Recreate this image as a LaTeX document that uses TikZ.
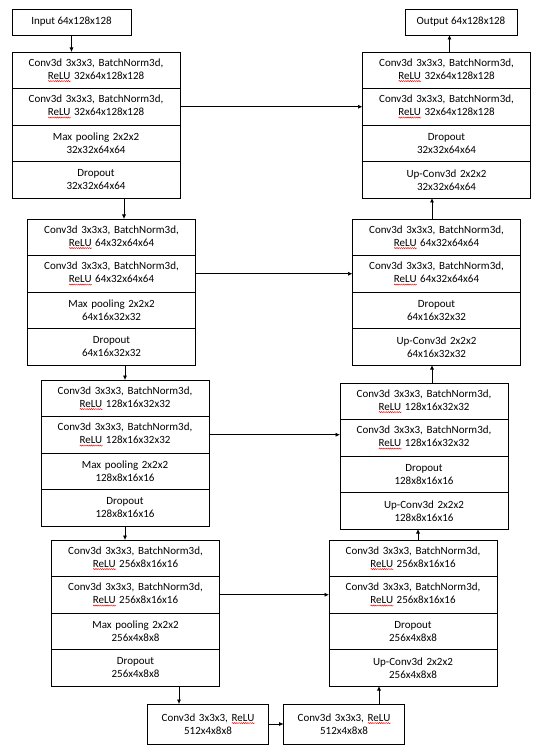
\documentclass[tikz,border=0pt]{standalone}
\usepackage{fontspec}
\setmainfont{Carlito}
\usetikzlibrary{positioning, arrows.meta, decorations.pathmorphing}

\newsavebox\relubox
\newcommand{\reluword}{\leavevmode\sbox\relubox{ReLU}\rlap{\tikz[baseline=0pt]\draw[red, line width=0.45pt, decorate, decoration={snake, amplitude=0.55pt, segment length=2.2pt}] (0pt,-1.8pt) -- (\wd\relubox,-1.8pt);}\usebox\relubox}
\newcommand{\convtxt}[1]{Conv3d 3x3x3, BatchNorm3d,\\ \reluword{} #1}

\begin{document}
\begin{tikzpicture}[x=1pt, y=-1pt,
	layer/.style={draw, line width=0.7pt, outer sep=0pt, inner sep=2pt, text width=160pt, align=center, minimum width=168pt, minimum height=36.5pt, font=\fontsize{11}{13}\selectfont},
	io/.style={draw, line width=0.7pt, outer sep=0pt, minimum height=26pt, font=\fontsize{11}{13}\selectfont},
	btm/.style={draw, line width=0.7pt, outer sep=0pt, text width=114pt, align=center, minimum width=120pt, minimum height=40pt, font=\fontsize{11}{13}\selectfont},
	arr/.style={-{Latex[length=4.5pt,width=4pt]}, line width=0.7pt}]
	\useasboundingbox (0,0) rectangle (537,751);

	\node[io, minimum width=119pt] (in) at (71.5,22) {Input 64x128x128};
	\node[io, minimum width=112pt] (out) at (461,22) {Output 64x128x128};

	\node[layer] (L1-1) at (96,70.25) {\convtxt{32x64x128x128}};
	\node[layer, below=0pt of L1-1] (L1-2) {\convtxt{32x64x128x128}};
	\node[layer, below=0pt of L1-2] (L1-3) {Max pooling 2x2x2\\ 32x32x64x64};
	\node[layer, below=0pt of L1-3] (L1-4) {Dropout\\ 32x32x64x64};

	\node[layer] (L2-1) at (111.5,237.25) {\convtxt{64x32x64x64}};
	\node[layer, below=0pt of L2-1] (L2-2) {\convtxt{64x32x64x64}};
	\node[layer, below=0pt of L2-2] (L2-3) {Max pooling 2x2x2\\ 64x16x32x32};
	\node[layer, below=0pt of L2-3] (L2-4) {Dropout\\ 64x16x32x32};

	\node[layer] (L3-1) at (125,398.25) {\convtxt{128x16x32x32}};
	\node[layer, below=0pt of L3-1] (L3-2) {\convtxt{128x16x32x32}};
	\node[layer, below=0pt of L3-2] (L3-3) {Max pooling 2x2x2\\ 128x8x16x16};
	\node[layer, below=0pt of L3-3] (L3-4) {Dropout\\ 128x8x16x16};

	\node[layer] (L4-1) at (135.5,558.25) {\convtxt{256x8x16x16}};
	\node[layer, below=0pt of L4-1] (L4-2) {\convtxt{256x8x16x16}};
	\node[layer, below=0pt of L4-2] (L4-3) {Max pooling 2x2x2\\ 256x4x8x8};
	\node[layer, below=0pt of L4-3] (L4-4) {Dropout\\ 256x4x8x8};

	\node[layer] (R1-1) at (446.5,70.25) {\convtxt{32x64x128x128}};
	\node[layer, below=0pt of R1-1] (R1-2) {\convtxt{32x64x128x128}};
	\node[layer, below=0pt of R1-2] (R1-3) {Dropout\\ 32x32x64x64};
	\node[layer, below=0pt of R1-3] (R1-4) {Up-Conv3d 2x2x2\\ 32x32x64x64};

	\node[layer] (R2-1) at (436.5,237.25) {\convtxt{64x32x64x64}};
	\node[layer, below=0pt of R2-1] (R2-2) {\convtxt{64x32x64x64}};
	\node[layer, below=0pt of R2-2] (R2-3) {Dropout\\ 64x16x32x32};
	\node[layer, below=0pt of R2-3] (R2-4) {Up-Conv3d 2x2x2\\ 64x16x32x32};

	\node[layer] (R3-1) at (424,401.25) {\convtxt{128x16x32x32}};
	\node[layer, below=0pt of R3-1] (R3-2) {\convtxt{128x16x32x32}};
	\node[layer, below=0pt of R3-2] (R3-3) {Dropout\\ 128x8x16x16};
	\node[layer, below=0pt of R3-3] (R3-4) {Up-Conv3d 2x2x2\\ 128x8x16x16};

	\node[layer] (R4-1) at (413,558.25) {\convtxt{256x8x16x16}};
	\node[layer, below=0pt of R4-1] (R4-2) {\convtxt{256x8x16x16}};
	\node[layer, below=0pt of R4-2] (R4-3) {Dropout\\ 256x4x8x8};
	\node[layer, below=0pt of R4-3] (R4-4) {Up-Conv3d 2x2x2\\ 256x4x8x8};

	\node[btm] (B1) at (208,724) {Conv3d 3x3x3, \reluword\\ 512x4x8x8};
	\node[btm] (B2) at (344,724) {Conv3d 3x3x3, \reluword\\ 512x4x8x8};

	\draw[arr] (in.south) -- (in.south |- L1-1.north);
	\draw[arr] ([xshift=28pt]L1-4.south) -- ([xshift=28pt]L1-4.south |- L2-1.north);
	\draw[arr] (L2-4.south -| L3-1.north) -- (L3-1.north);
	\draw[arr] (L3-4.south) -- (L3-4.south |- L4-1.north);
	\draw[arr] ([xshift=43.5pt]L4-4.south) -- ([xshift=43.5pt]L4-4.south |- B1.north);
	\draw[arr] (B1.east) -- (B2.west);
	\draw[arr] ([xshift=35pt]B2.north) -- ([xshift=35pt]B2.north |- R4-4.south);
	\draw[arr] ([xshift=5pt]R4-1.north) -- ([xshift=5pt]R4-1.north |- R3-4.south);
	\draw[arr] ([xshift=8pt]R3-1.north) -- ([xshift=8pt]R3-1.north |- R2-4.south);
	\draw[arr] ([xshift=-4.5pt]R2-1.north) -- ([xshift=-4.5pt]R2-1.north |- R1-4.south);
	\draw[arr] ([xshift=3pt]R1-1.north) -- ([xshift=3pt]R1-1.north |- out.south);

	\draw[arr] (L1-2.east) -- (L1-2.east -| R1-2.west);
	\draw[arr] (L2-2.east) -- (L2-2.east -| R2-2.west);
	\draw[arr] (L3-2.east) -- (L3-2.east -| R3-2.west);
	\draw[arr] (L4-2.east) -- (L4-2.east -| R4-2.west);
\end{tikzpicture}
\end{document}
